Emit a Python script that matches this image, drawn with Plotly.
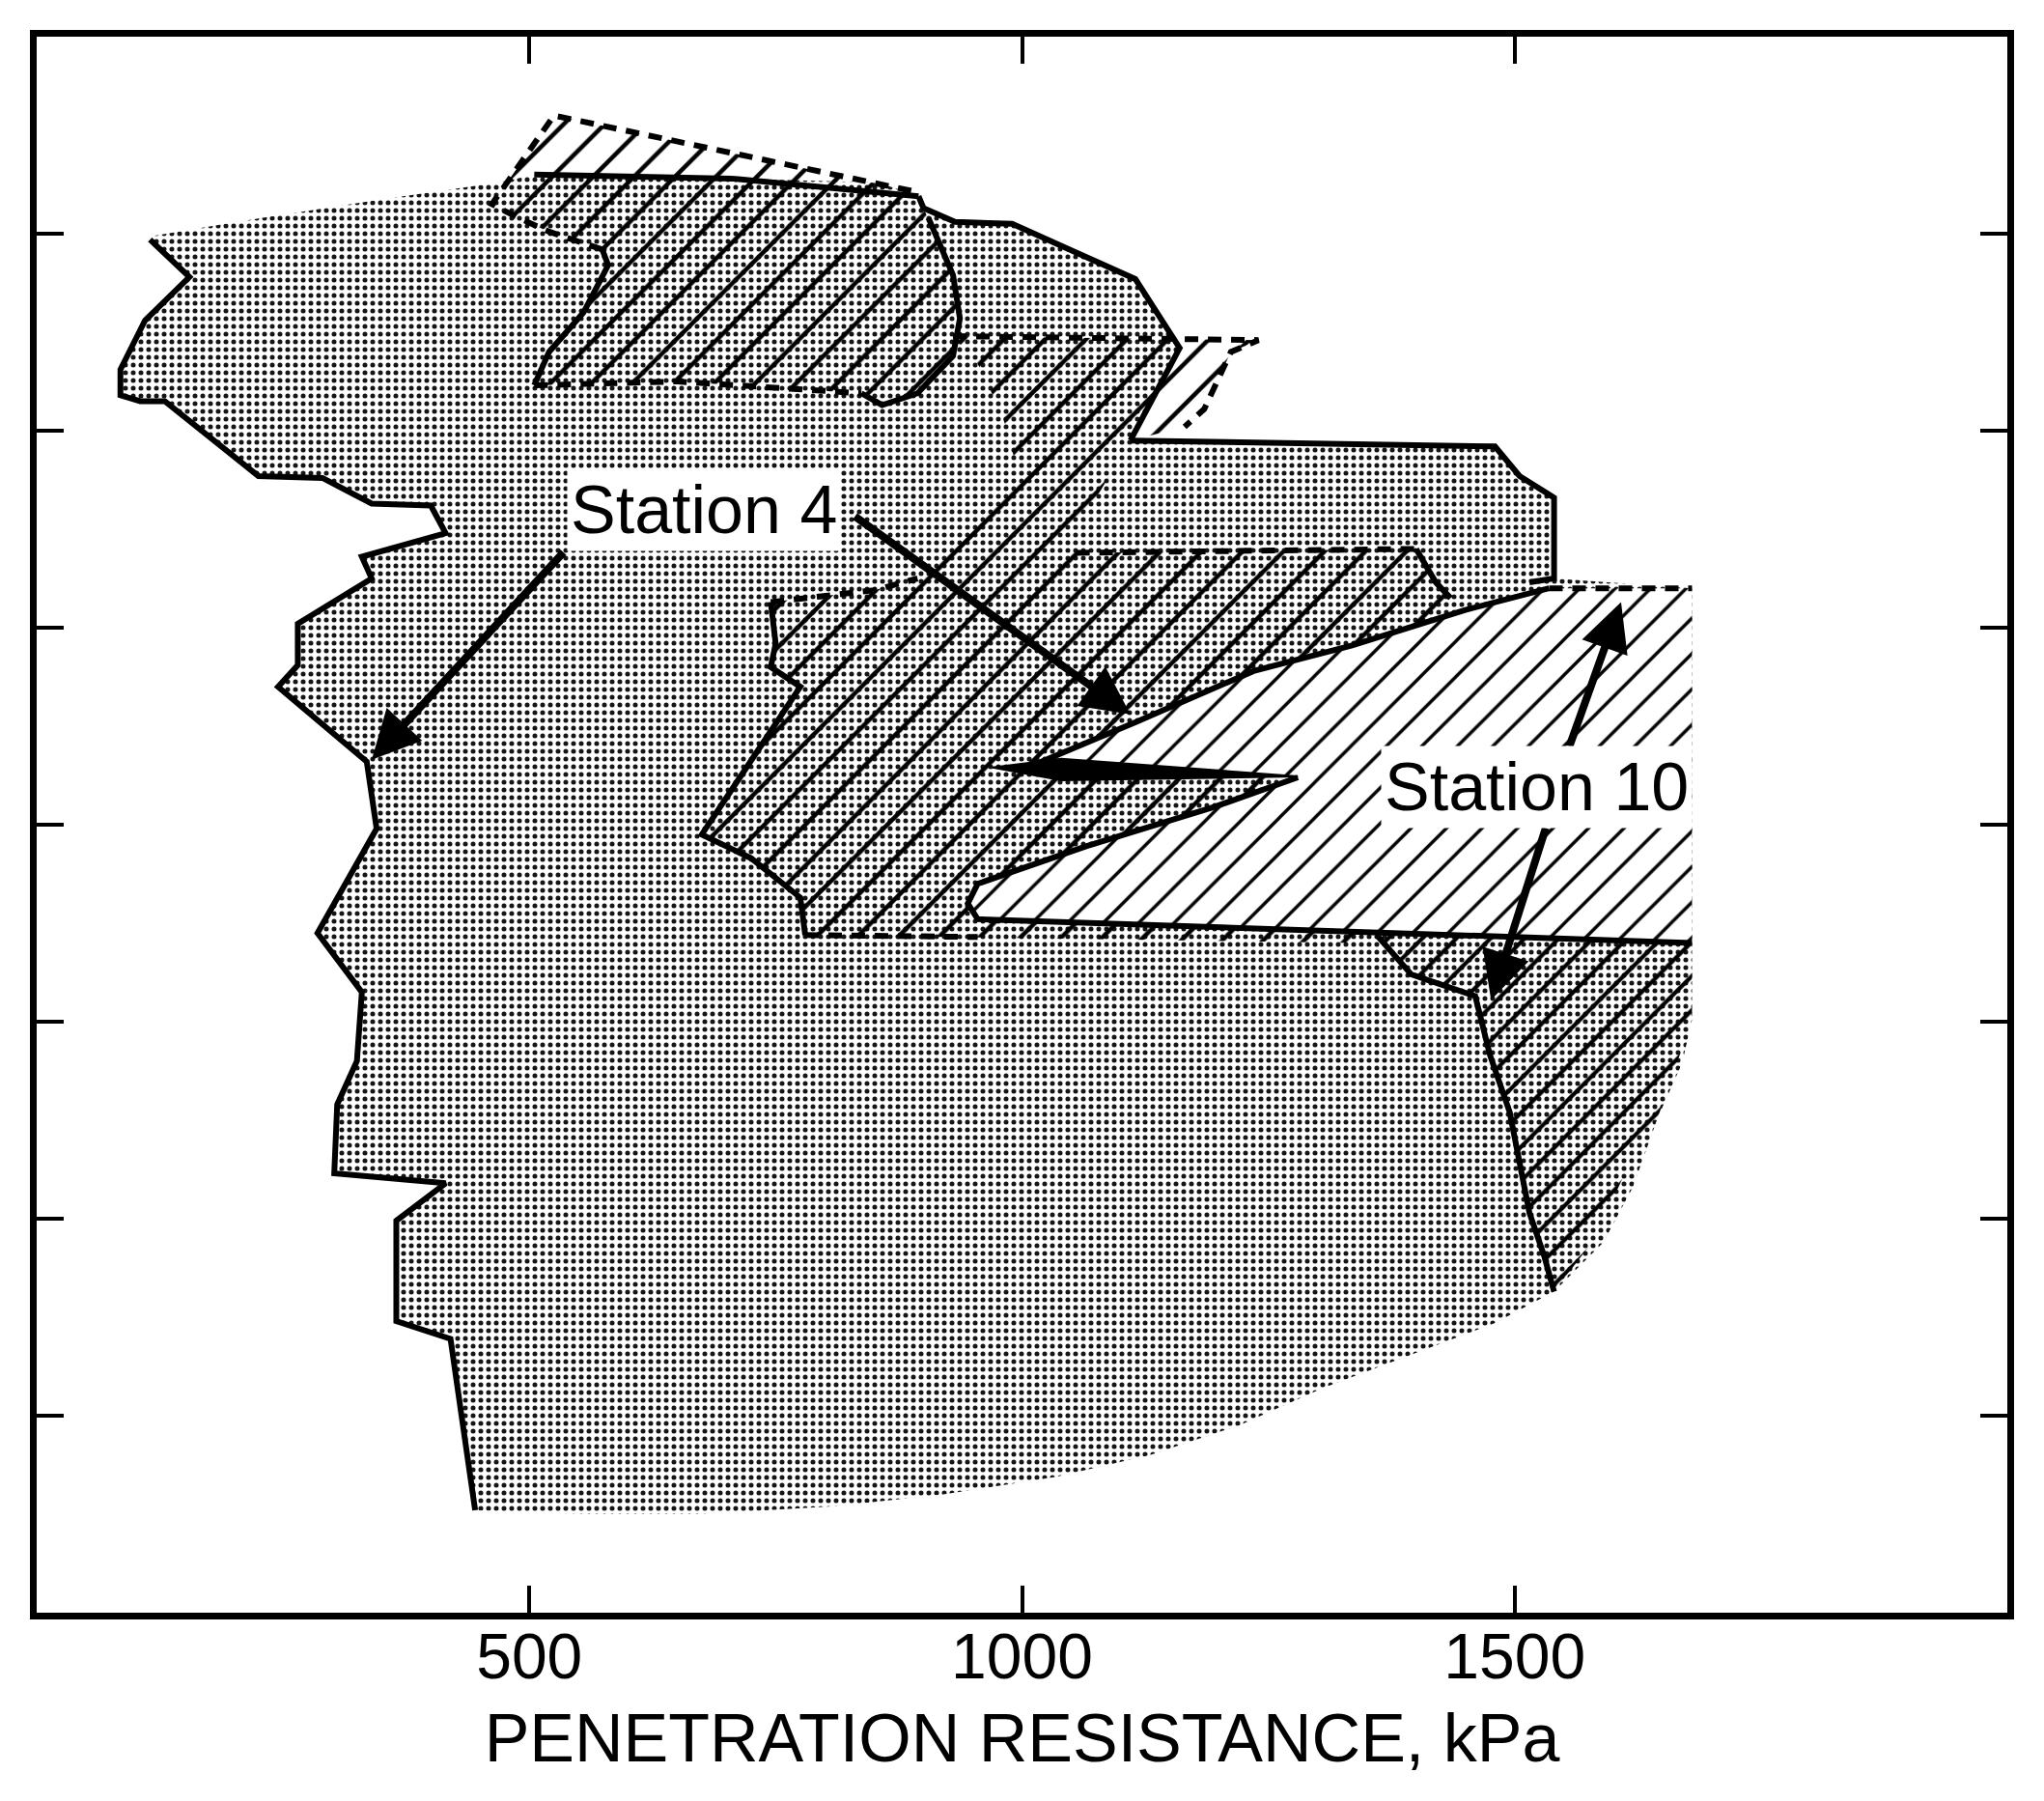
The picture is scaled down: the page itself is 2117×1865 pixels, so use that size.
import plotly.graph_objects as go

# ---- stippled envelope -------------------------------------------------
# outlined left edge, top to bottom (kPa, depth units)
left_kpa = [115, 155, 110, 85, 85, 105, 130, 225, 290, 340, 400, 415, 330, 340, 265,
            265, 245, 335, 345, 285, 330, 325, 305, 302, 415, 365, 365, 420, 445]
left_depth = [1.03, 1.22, 1.44, 1.69, 1.82, 1.85, 1.85, 2.23, 2.24, 2.37, 2.38, 2.52, 2.64, 2.75, 2.98,
              3.19, 3.30, 3.68, 4.02, 4.55, 4.85, 5.20, 5.42, 5.77, 5.82, 6.01, 6.52, 6.61, 7.48]
# soft lower / right edge (no outline)
lower_kpa = [560, 670, 810, 920, 1035, 1130, 1220, 1305, 1390, 1480, 1540, 1590, 1620, 1645, 1670, 1680, 1680]
lower_depth = [7.50, 7.50, 7.46, 7.40, 7.31, 7.20, 7.05, 6.86, 6.70, 6.53, 6.37, 6.12, 5.84, 5.49, 5.21, 4.99, 4.60]
# upper right block and upper edge back to the left
upper_kpa = [1680, 1540, 1540, 1505, 1480, 1110, 1160, 1145, 1115, 990, 932, 900, 895, 854, 705, 505, 479, 455, 345, 228, 120]
upper_depth = [2.80, 2.75, 2.34, 2.23, 2.08, 2.05, 1.58, 1.47, 1.23, 0.95, 0.94, 0.87, 0.81, 0.74, 0.72, 0.70, 0.73, 0.75, 0.83, 0.92, 1.01]

# ---- hatched zones ---------------------------------------------------------
htop_kpa = [525, 895, 900, 930, 937, 930, 894, 858, 837, 650, 505, 520, 555, 580, 574, 520, 485, 462]
htop_depth = [0.40, 0.79, 0.87, 1.21, 1.43, 1.62, 1.81, 1.87, 1.81, 1.75, 1.77, 1.60, 1.40, 1.16, 1.08, 0.99, 0.91, 0.85]

hmid_kpa = [1240, 1212, 1185, 1165, 1110, 1073, 1055, 1400, 1420, 1435, 1480, 1340, 780, 775, 725, 675,
            775, 745, 750, 745, 850, 894, 950, 995, 980, 955, 930]
hmid_depth = [1.54, 1.60, 1.89, 1.98, 2.05, 2.36, 2.62, 2.60, 2.77, 2.85, 3.13, 4.60, 4.56, 4.37, 4.17, 4.05,
              3.30, 3.20, 3.08, 2.87, 2.81, 2.75, 2.46, 2.19, 1.92, 1.66, 1.52]

hbr_kpa = [1360, 1680, 1680, 1645, 1610, 1580, 1540, 1530, 1515, 1495, 1475, 1460, 1395]
hbr_depth = [4.56, 4.60, 4.99, 5.49, 5.79, 6.11, 6.37, 6.19, 5.97, 5.46, 5.17, 4.87, 4.76]

# Station 10 zone (white, hatched)
st10_kpa = [1015, 1115, 1235, 1335, 1450, 1535, 1680, 1680, 955, 945, 955, 1065, 1195, 1280, 1020]
st10_depth = [3.69, 3.48, 3.22, 3.09, 2.91, 2.80, 2.80, 4.60, 4.48, 4.40, 4.30, 4.11, 3.91, 3.76, 3.72]

wedge_kpa = [970, 1040, 1280, 1040]
wedge_depth = [3.71, 3.665, 3.755, 3.775]

# ---- outline segments -----------------------------------------------------
solid_lines = [
    (left_kpa, left_depth),
    ([895, 900, 932, 990, 1115, 1145, 1160, 1110], [0.81, 0.87, 0.94, 0.95, 1.23, 1.47, 1.58, 2.05]),
    ([1110, 1480, 1505, 1540, 1540, 1515], [2.05, 2.08, 2.23, 2.34, 2.75, 2.77]),
    ([505, 705, 895], [0.70, 0.72, 0.81]),
    ([905, 930, 937, 930, 894, 858, 837], [0.92, 1.21, 1.43, 1.62, 1.81, 1.87, 1.81]),
    ([574, 580, 555, 520, 505], [1.08, 1.16, 1.40, 1.60, 1.77]),
    ([1400, 1420, 1435], [2.60, 2.77, 2.85]),
    ([745, 750, 745, 775, 675, 725, 775, 780], [2.87, 3.08, 3.20, 3.30, 4.05, 4.17, 4.37, 4.56]),
    ([1015, 1115, 1235, 1335, 1450, 1535], [3.69, 3.48, 3.22, 3.09, 2.91, 2.80]),
    ([1680, 955, 945, 955, 1065, 1195, 1280], [4.60, 4.48, 4.40, 4.30, 4.11, 3.91, 3.76]),
    ([1540, 1530, 1515, 1495, 1475, 1460, 1395, 1360], [6.37, 6.19, 5.97, 5.46, 5.17, 4.87, 4.76, 4.56]),
]
dashed_lines = [
    ([574, 520, 485, 462, 525, 895], [1.08, 0.99, 0.91, 0.85, 0.40, 0.79]),
    ([505, 650, 837], [1.77, 1.75, 1.81]),
    ([930, 1240, 1212, 1185, 1165], [1.52, 1.54, 1.60, 1.89, 1.98]),
    ([1055, 1400], [2.62, 2.60]),
    ([745, 850, 894], [2.87, 2.81, 2.75]),
    ([780, 955], [4.56, 4.57]),
    ([1535, 1680], [2.80, 2.80]),
]

# arrows: (tail kPa, tail depth, head kPa, head depth)
arrows = [
    (829, 2.43, 1110, 3.44),
    (536, 2.61, 340, 3.67),
    (1555, 3.61, 1608, 2.87),
    (1532, 4.01, 1476, 4.89),
]
labels = [("Station 4", 677, 2.40), ("Station 10", 1522, 3.81)]

FONT = "Liberation Sans, Arial, Helvetica, sans-serif"


def area(fig, xs, ys, shape, size, fg, bg, solidity):
    fig.add_trace(go.Scatter(
        x=xs + [xs[0]], y=ys + [ys[0]], mode='lines', fill='toself',
        line=dict(width=0, color='rgba(0,0,0,0)'), fillcolor=bg,
        fillpattern=dict(shape=shape, size=size, fgcolor=fg, bgcolor=bg, solidity=solidity, fgopacity=1),
        hoverinfo='skip', showlegend=False))


fig = go.Figure()

stip_x = left_kpa + lower_kpa + upper_kpa
stip_y = left_depth + lower_depth + upper_depth
area(fig, stip_x, stip_y, '.', 8, '#141414', 'white', 0.31)

clear = 'rgba(0,0,0,0)'
area(fig, htop_kpa, htop_depth, '/', 30, 'black', clear, 0.15)
area(fig, hmid_kpa, hmid_depth, '/', 30, 'black', clear, 0.15)
area(fig, hbr_kpa, hbr_depth, '/', 25, 'black', clear, 0.17)
area(fig, st10_kpa, st10_depth, '/', 26, 'black', 'white', 0.13)

fig.add_trace(go.Scatter(x=wedge_kpa + [wedge_kpa[0]], y=wedge_depth + [wedge_depth[0]], mode='lines',
                         fill='toself', fillcolor='black', line=dict(color='black', width=2),
                         hoverinfo='skip', showlegend=False))

for xs, ys in solid_lines:
    fig.add_trace(go.Scatter(x=xs, y=ys, mode='lines', line=dict(color='black', width=6),
                             hoverinfo='skip', showlegend=False))
for xs, ys in dashed_lines:
    fig.add_trace(go.Scatter(x=xs, y=ys, mode='lines', line=dict(color='black', width=6, dash='14px,10px'),
                             hoverinfo='skip', showlegend=False))

for x0, y0, x1, y1 in arrows:
    fig.add_annotation(x=x1, y=y1, ax=x0, ay=y0, xref='x', yref='y', axref='x', ayref='y',
                       text='', showarrow=True, arrowhead=2, arrowsize=1.25, arrowwidth=8, arrowcolor='black')
for txt, x, y in labels:
    fig.add_annotation(x=x, y=y, text=txt, showarrow=False, bgcolor='white', borderpad=3,
                       font=dict(family=FONT, size=70, color='black'))

fig.update_layout(
    width=2117, height=1865,
    margin=dict(l=38, r=38, t=38, b=195),
    plot_bgcolor='white', paper_bgcolor='white',
    font=dict(family=FONT, color='black'),
    showlegend=False,
)
fig.update_xaxes(range=[0, 2000], tickvals=[500, 1000, 1500], ticks='inside', ticklen=28, tickwidth=4,
                 tickcolor='black', showline=True, linewidth=7, linecolor='black', mirror='ticks',
                 showgrid=False, zeroline=False, tickfont=dict(size=66), ticklabelstandoff=-18,
                 title=dict(text='PENETRATION RESISTANCE, kPa', font=dict(size=70), standoff=26))
fig.update_yaxes(range=[8, 0], tickvals=[1, 2, 3, 4, 5, 6, 7], ticks='inside', ticklen=28, tickwidth=4,
                 tickcolor='black', showline=True, linewidth=7, linecolor='black', mirror='ticks',
                 showgrid=False, zeroline=False, showticklabels=False)

fig.write_html("out.html", config={'displayModeBar': False},
               post_script="document.body.style.margin='0px';")
